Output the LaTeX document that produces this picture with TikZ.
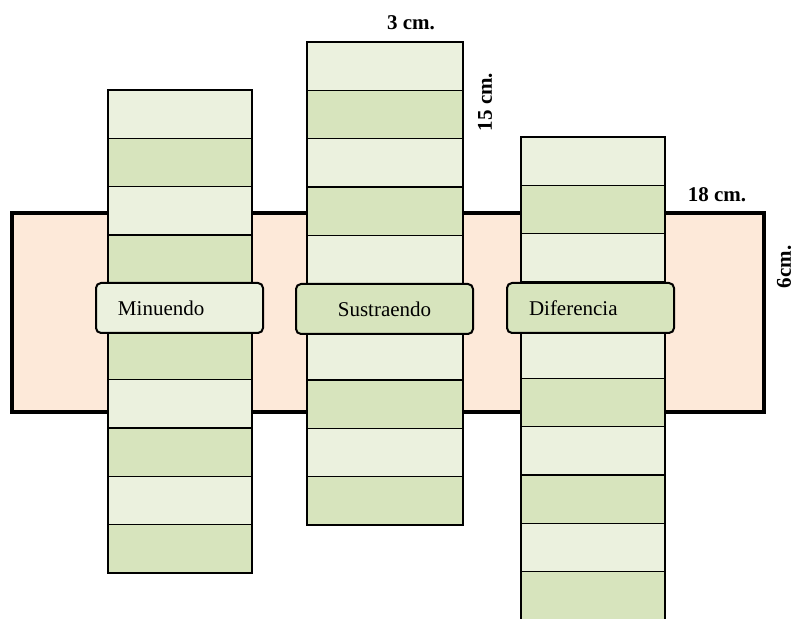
\documentclass[tikz,border=0pt]{standalone}
\usepackage{fontspec}
\setmainfont{Liberation Serif}
\usetikzlibrary{positioning}
\definecolor{paleGreen}{HTML}{EBF1DE}
\definecolor{midGreen}{HTML}{D7E4BD}
\definecolor{peach}{HTML}{FDE9D9}

\begin{document}
\begin{tikzpicture}[
    x=0.5pt, y=-0.5pt,
    every node/.style={font=\fontsize{10.5}{12}\selectfont},
    base/.style={draw, line width=1.75pt, fill=peach},
    cellA/.style={draw, line width=0.65pt, fill=paleGreen},
    cellB/.style={draw, line width=0.65pt, fill=midGreen},
    rim/.style={draw, line width=1pt},
    tag/.style={draw, line width=1pt, rounded corners=2.5pt, minimum height=25pt, text width=61.5pt, inner xsep=11pt, align=left},
    dim/.style={font=\bfseries\fontsize{10.5}{12}\selectfont, inner sep=0pt}
]
\useasboundingbox (0,0) rectangle (794,619);
% base strip 18 x 6
\draw[base] (12,213) rectangle (764,412);
% the three 3 x 15 strips, ten cells each
\foreach \sx/\sy/\sw in {108/90/144, 307/42/156, 521/137/144} {
    \foreach \i in {0,2,...,8}
        \draw[cellA] (\sx,{\sy+\i*48.3}) rectangle ++(\sw,48.3);
    \foreach \i in {1,3,...,9}
        \draw[cellB] (\sx,{\sy+\i*48.3}) rectangle ++(\sw,48.3);
    \draw[rim] (\sx,\sy) rectangle ++(\sw,483);
}
\node[tag, fill=paleGreen] (minuendo) at (179.5,308) {Minuendo};
\node[tag, fill=midGreen, text width=80.5pt, inner xsep=4pt, align=center] (sustraendo) at (384.5,309) {Sustraendo};
\node[tag, fill=midGreen] (diferencia) at (590.5,308) {Diferencia};
% dimensions
\node[dim] (ancho) at (411,23) {3 cm.};
\node[dim, rotate=90] (largo) at (485,102) {15 cm.};
\node[dim] (baseancho) at (717,195) {18 cm.};
\node[dim, rotate=90] (basealto) at (784,267) {6cm.};
\end{tikzpicture}
\end{document}
